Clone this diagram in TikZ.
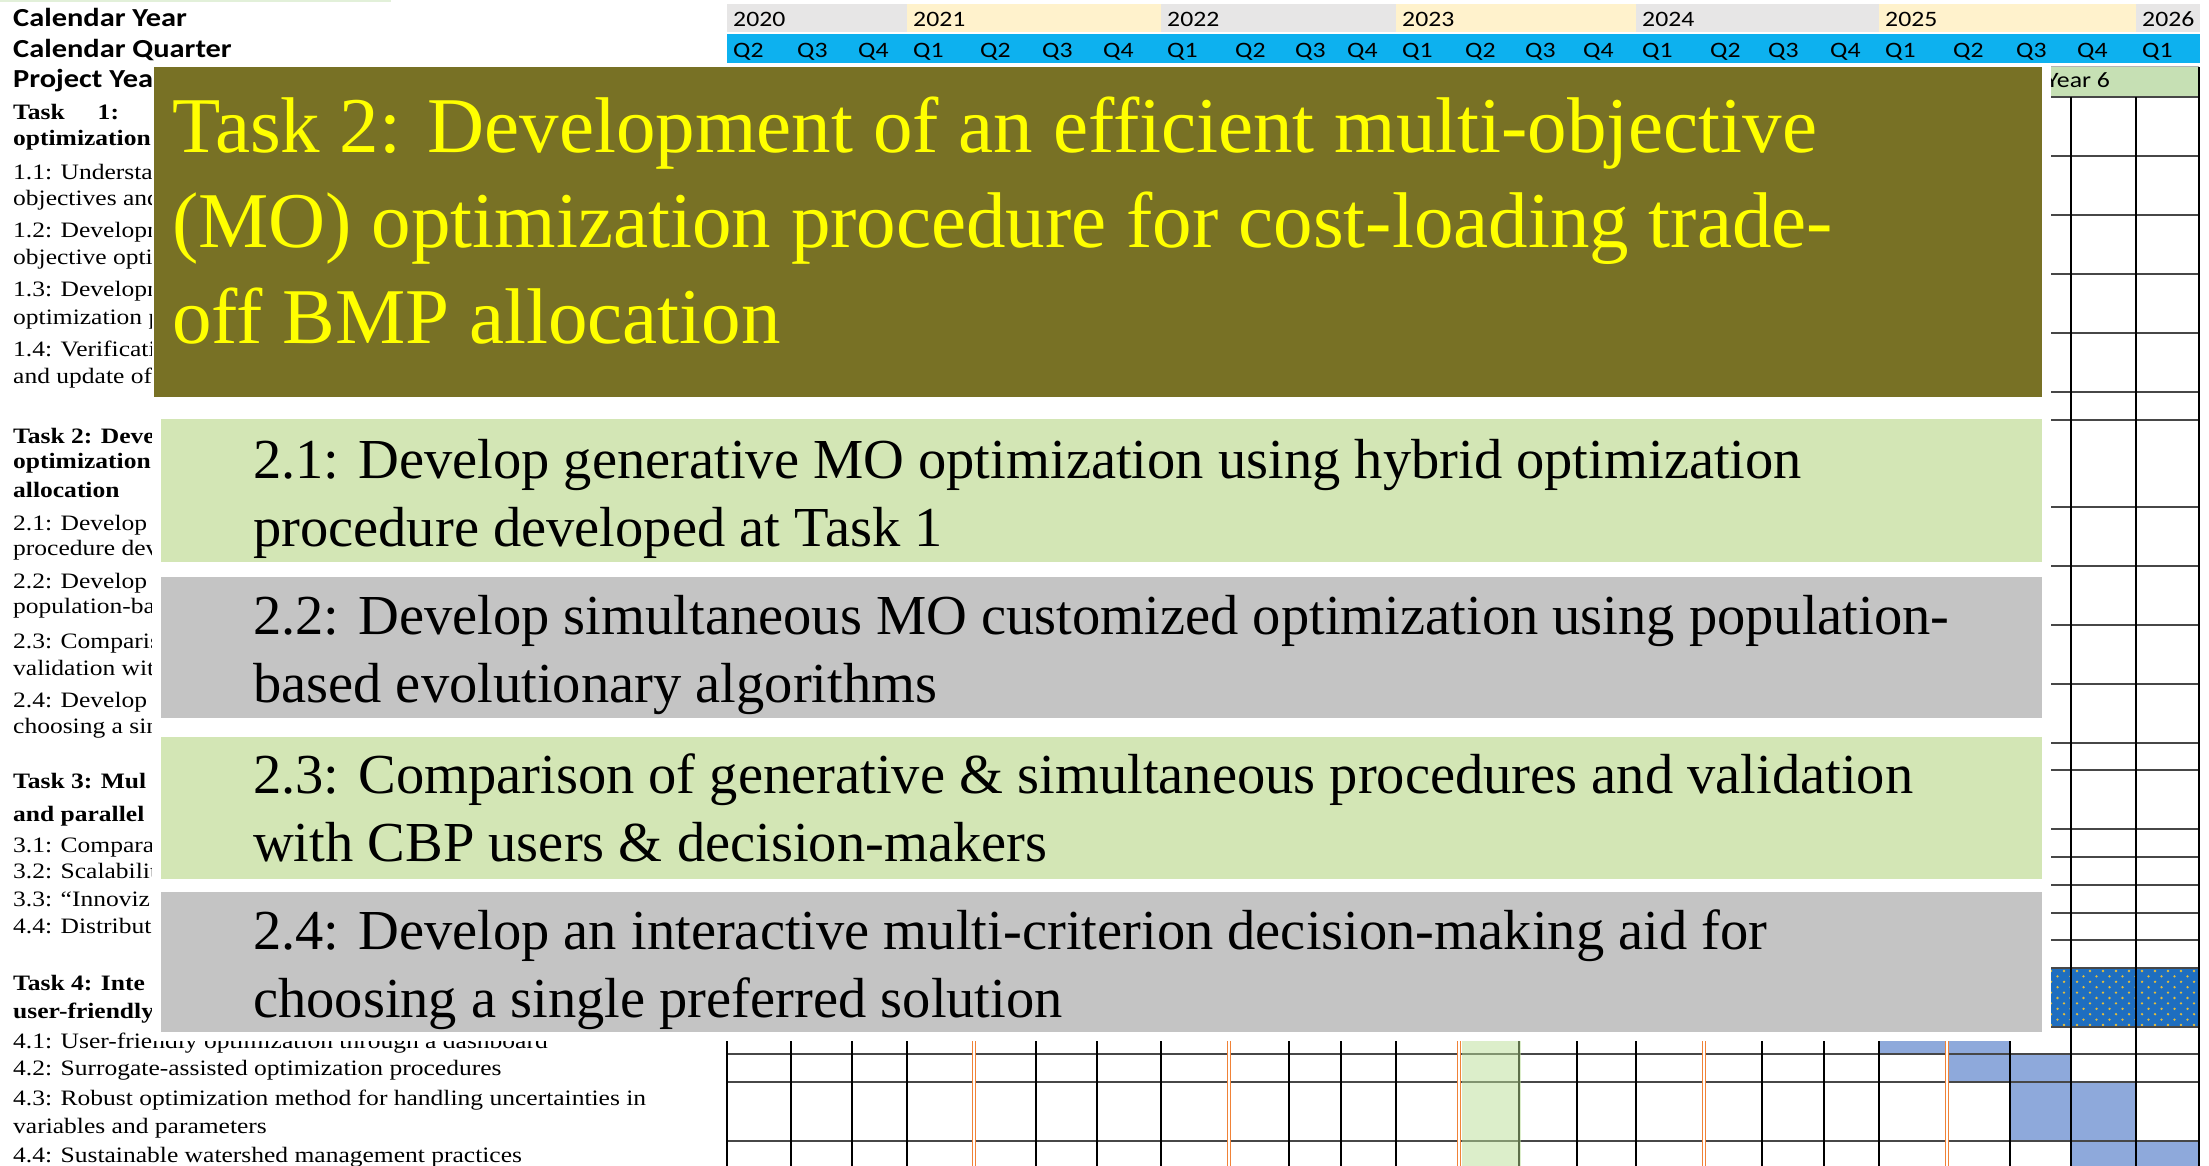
\documentclass[tikz,border=0pt]{standalone}
\usepackage{fontspec}
\setmainfont{Liberation Serif}
\newfontfamily\xlserif[FakeStretch=1.16]{Liberation Serif}
\newfontfamily\xlsans[FakeStretch=1.17]{Carlito}
\newfontfamily\bigserif{Liberation Serif}
\definecolor{palegreen}{RGB}{226,240,217}
\definecolor{yeargrey}{RGB}{231,230,230}
\definecolor{yearcream}{RGB}{255,242,204}
\definecolor{qblue}{RGB}{13,177,239}
\definecolor{yearsix}{RGB}{198,224,180}
\definecolor{barblue}{RGB}{142,169,219}
\definecolor{dotblue}{RGB}{30,110,192}
\definecolor{dotgold}{RGB}{228,190,60}
\definecolor{orangec}{RGB}{240,130,55}
\definecolor{colgreen}{RGB}{187,223,151}
\definecolor{olivec}{RGB}{120,113,37}
\definecolor{titleyellow}{RGB}{255,255,0}
\definecolor{boxgreen}{RGB}{211,230,181}
\definecolor{boxgrey}{RGB}{196,196,196}
\begin{document}
\begin{tikzpicture}[x=1pt,y=-1pt,
  lefttext/.style={anchor=base west, inner sep=0pt, font=\xlserif\fontsize{22}{26}\selectfont},
  leftbold/.style={lefttext, font=\xlserif\bfseries\fontsize{22}{26}\selectfont},
  hdrbold/.style={anchor=base west, inner sep=0pt, font=\xlsans\bfseries\fontsize{26}{30}\selectfont},
  hdrlab/.style={anchor=base west, inner sep=0pt, font=\xlsans\fontsize{22}{26}\selectfont},
  gridv/.style={line width=2pt, draw=black},
  gridh/.style={line width=2.4pt, draw=black!72},
  orangeline/.style={draw=orangec, line width=1.6pt, double=white, double distance=1.6pt},
  panel/.style={anchor=north west, inner sep=0pt, draw=none, minimum width=1881pt},
  titleline/.style={anchor=base west, inner sep=0pt, text=titleyellow, font=\bigserif\fontsize{79}{94}\selectfont},
  boxline/.style={anchor=base west, inner sep=0pt, text=black, font=\bigserif\fontsize{56.5}{68}\selectfont}
]
\useasboundingbox (0,0) rectangle (2209,1166);
\fill[white] (0,0) rectangle (2209,1166);
\fill[palegreen] (0,0) rectangle (391,2.5);

% ---- header labels on the left
\node[hdrbold] (calyear) at (13,27) {Calendar Year};
\node[hdrbold] (calquarter) at (13,58) {Calendar Quarter};
\node[hdrbold] (projyear) at (13,88) {Project Yea};

% ---- year row
\foreach \a/\b/\c/\yr in {727/907/yeargrey/2020, 907/1161/yearcream/2021, 1161/1396/yeargrey/2022, 1396/1636/yearcream/2023, 1636/1879/yeargrey/2024, 1879/2136/yearcream/2025, 2136/2200/yeargrey/2026}{
  \fill[\c] (\a,4) rectangle (\b,32);
  \node[hdrlab] (y\yr) at (\a+6,27) {\yr};
}
% ---- quarter row
\fill[qblue] (727,34) rectangle (2200,63);
\foreach \x/\q in {727/Q2, 791/Q3, 852/Q4, 907/Q1, 974/Q2, 1036/Q3, 1097/Q4, 1161/Q1, 1229/Q2, 1289/Q3, 1341/Q4, 1396/Q1, 1459/Q2, 1519/Q3, 1577/Q4, 1636/Q1, 1704/Q2, 1762/Q3, 1824/Q4, 1879/Q1, 1947/Q2, 2010/Q3, 2071/Q4, 2136/Q1}{
  \node[hdrlab] (q\x) at (\x+6,58) {\q};
}
% ---- project year 6
\fill[yearsix] (1947,67) rectangle (2199,97);
\draw[black!30, line width=1pt] (1947,67) -- (2199,67);
\node[hdrlab] (year6) at (2046,88) {Year 6};

% ---- bars
\fill[barblue] (1879,1027) rectangle (2010,1054);
\fill[barblue] (1947,1054) rectangle (2071,1082);
\fill[barblue] (2010,1082) rectangle (2136,1141);
\fill[barblue] (2071,1141) rectangle (2199,1166);
\fill[dotblue] (1879,968) rectangle (2199,1027);
\begin{scope}
  \clip (1879,968) rectangle (2199,1027);
  \foreach \j in {0,...,11}{
    \foreach \i in {0,...,25}{
      \fill[dotgold] ({1882+13*\i+6.5*mod(\j,2)},{971+5.4*\j}) circle (1.3pt);
    }
  }
\end{scope}

% ---- grid
\foreach \y in {97,156,215,274,333,392,420,507,566,625,684,743,770,829,857,885,913,940,968,1027,1054,1082,1141}{
  \draw[gridh] (727,\y) -- (2199,\y);
}
\foreach \x in {727,791,852,907,1036,1097,1161,1289,1341,1396,1519,1577,1636,1762,1824,1879,2010,2071,2136}{
  \draw[gridv] (\x,97) -- (\x,1166);
}
\draw[gridv] (2199,67) -- (2199,1166);
\fill[colgreen, opacity=0.5] (1461.6,97) rectangle (1521,1166);
\foreach \x in {974,1229,1459,1704,1947}{
  \draw[orangeline] (\x,97) -- (\x,1166);
}

% ---- left task column
\node[leftbold] (t1a) at (13,120) {Task\hspace{33pt}1:};
\node[leftbold] (t1b) at (13,146) {optimization};
\node[lefttext] (t11a) at (13,180) {1.1: Understa};
\node[lefttext] (t11b) at (13,206) {objectives and};
\node[lefttext] (t12a) at (13,238) {1.2: Developm};
\node[lefttext] (t12b) at (13,265) {objective opti};
\node[lefttext] (t13a) at (13,297) {1.3: Developm};
\node[lefttext] (t13b) at (13,325) {optimization p};
\node[lefttext] (t14a) at (13,356) {1.4: Verificati};
\node[lefttext] (t14b) at (13,383) {and update of};
\node[leftbold] (t2a) at (13,443) {Task 2: Deve};
\node[leftbold] (t2b) at (13,468) {optimization};
\node[leftbold] (t2c) at (13,497) {allocation};
\node[lefttext] (t21a) at (13,530) {2.1: Develop};
\node[lefttext] (t21b) at (13,555) {procedure dev};
\node[lefttext] (t22a) at (13,588) {2.2: Develop};
\node[lefttext] (t22b) at (13,613) {population-ba};
\node[lefttext] (t23a) at (13,648) {2.3: Comparis};
\node[lefttext] (t23b) at (13,675) {validation wit};
\node[lefttext] (t24a) at (13,707) {2.4: Develop};
\node[lefttext] (t24b) at (13,733) {choosing a sin};
\node[leftbold] (t3a) at (13,788) {Task 3: Mul};
\node[leftbold] (t3b) at (13,821) {and parallel};
\node[lefttext] (t31) at (13,852) {3.1: Compara};
\node[lefttext] (t32) at (13,878) {3.2: Scalabilit};
\node[lefttext] (t33) at (13,906) {3.3: “Innoviz};
\node[lefttext] (t34) at (13,933) {4.4: Distribut};
\node[leftbold] (t4a) at (13,990) {Task 4: Inte};
\node[leftbold] (t4b) at (13,1018) {user-friendly};
\node[lefttext] (t41) at (13,1048) {4.1: User-friendly optimization through a dashboard};
\node[lefttext] (t42) at (13,1075) {4.2: Surrogate-assisted optimization procedures};
\node[lefttext] (t43a) at (13,1105) {4.3: Robust optimization method for handling uncertainties in};
\node[lefttext] (t43b) at (13,1133) {variables and parameters};
\node[lefttext] (t44) at (13,1162) {4.4: Sustainable watershed management practices};

% ---- white cover behind the overlay
\fill[white] (152,64) rectangle (2051,1041);

% ---- overlay panels
\node[panel, fill=olivec, minimum width=1888pt, minimum height=330pt] (titlebox) at (154,67) {};
\node[titleline] (title1) at (172,153) {Task 2: Development of an efficient multi-objective};
\node[titleline] (title2) at (172,248) {(MO) optimization procedure for cost-loading trade-};
\node[titleline] (title3) at (172,343) {off BMP allocation};

\node[panel, fill=boxgreen, minimum height=143pt] (box21) at (161,419) {};
\node[boxline] (b21a) at (253,478) {2.1: Develop generative MO optimization using hybrid optimization};
\node[boxline] (b21b) at (253,546) {procedure developed at Task 1};

\node[panel, fill=boxgrey, minimum height=141pt] (box22) at (161,577) {};
\node[boxline] (b22a) at (253,634) {2.2: Develop simultaneous MO customized optimization using population-};
\node[boxline] (b22b) at (253,702) {based evolutionary algorithms};

\node[panel, fill=boxgreen, minimum height=142pt] (box23) at (161,737) {};
\node[boxline] (b23a) at (253,793) {2.3: Comparison of generative \& simultaneous procedures and validation};
\node[boxline] (b23b) at (253,861) {with CBP users \& decision-makers};

\node[panel, fill=boxgrey, minimum height=140pt] (box24) at (161,892) {};
\node[boxline] (b24a) at (253,949) {2.4: Develop an interactive multi-criterion decision-making aid for};
\node[boxline] (b24b) at (253,1017) {choosing a single preferred solution};
\end{tikzpicture}
\end{document}
